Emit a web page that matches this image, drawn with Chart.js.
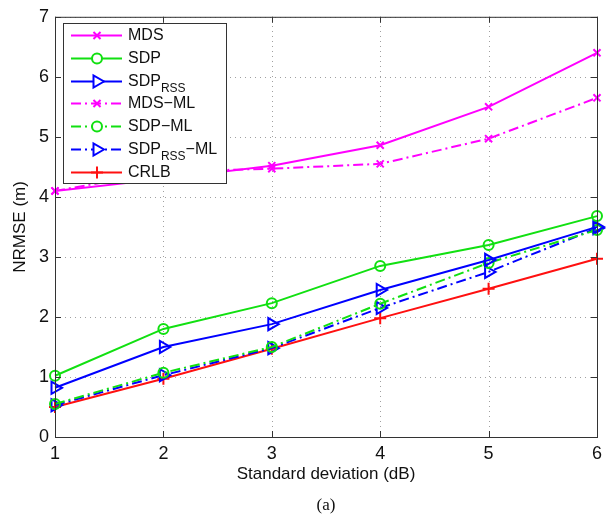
<!DOCTYPE html>
<html>
<head>
<meta charset="utf-8">
<script src="https://cdn.jsdelivr.net/npm/chart.js@4"></script>
<style>
html, body { margin: 0; padding: 0; background: #fff; }
#wrap { width: 611px; height: 514px; }
</style>
</head>
<body>
<div id="wrap"><canvas id="chart" width="611" height="514"></canvas></div>
<script>
const xValues = [1, 2, 3, 4, 5, 6];
const yTicks = [0, 1, 2, 3, 4, 5, 6, 7];
const mds = [4.1, 4.3, 4.52, 4.86, 5.5, 6.4];
const sdp = [1.02, 1.8, 2.23, 2.85, 3.2, 3.68];
const sdpRss = [0.82, 1.5, 1.88, 2.45, 2.95, 3.5];
const mdsMl = [4.1, 4.42, 4.47, 4.55, 4.97, 5.65];
const sdpMl = [0.55, 1.07, 1.5, 2.22, 2.9, 3.45];
const sdpRssMl = [0.53, 1.03, 1.48, 2.15, 2.75, 3.48];
const crlb = [0.5, 0.97, 1.47, 1.98, 2.47, 2.97];

const MAGENTA = "#ff00ff";
const GREEN = "#11e011";
const BLUE = "#0000ff";
const RED = "#ff1010";
const DASHDOT = [10, 4, 2, 4];

function toPoints(values) {
    return values.map((v, i) => ({ x: xValues[i], y: v }));
}

function makeSeries(main, sub, tail, values, color, dash, marker) {
    return {
        label: main + (sub ? sub : "") + tail,
        legendMain: main,
        legendSub: sub,
        legendTail: tail,
        data: toPoints(values),
        borderColor: color,
        backgroundColor: "rgba(0,0,0,0)",
        borderWidth: 2,
        borderDash: dash,
        pointStyle: marker.style,
        pointRadius: marker.radius,
        pointRotation: marker.rotation || 0,
        pointBorderWidth: 2,
        pointBorderColor: color,
        pointBackgroundColor: "rgba(0,0,0,0)",
        tension: 0,
        clip: false
    };
}

const xMark = { style: "crossRot", radius: 5 };
const oMark = { style: "circle", radius: 5 };
const triMark = { style: "triangle", radius: 7, rotation: 90 };
const plusMark = { style: "cross", radius: 6 };

const datasets = [
    makeSeries("MDS", "", "", mds, MAGENTA, [], xMark),
    makeSeries("SDP", "", "", sdp, GREEN, [], oMark),
    makeSeries("SDP", "RSS", "", sdpRss, BLUE, [], triMark),
    makeSeries("MDS\u2212ML", "", "", mdsMl, MAGENTA, DASHDOT, xMark),
    makeSeries("SDP\u2212ML", "", "", sdpMl, GREEN, DASHDOT, oMark),
    makeSeries("SDP", "RSS", "\u2212ML", sdpRssMl, BLUE, DASHDOT, triMark),
    makeSeries("CRLB", "", "", crlb, RED, [], plusMark)
];

// dotted grid, drawn under the data
const dottedGrid = {
    id: "dottedGrid",
    beforeDatasetsDraw(chart) {
        const ctx = chart.ctx;
        const area = chart.chartArea;
        const xs = chart.scales.x;
        const ys = chart.scales.y;
        ctx.save();
        ctx.strokeStyle = "#a0a0a0";
        ctx.lineWidth = 1;
        ctx.setLineDash([1, 4]);
        ctx.beginPath();
        xValues.forEach((v) => {
            const px = Math.round(xs.getPixelForValue(v)) + 0.5;
            ctx.moveTo(px, area.bottom);
            ctx.lineTo(px, area.top);
        });
        yTicks.forEach((v) => {
            const py = Math.round(ys.getPixelForValue(v)) + 0.5;
            ctx.moveTo(area.left, py);
            ctx.lineTo(area.right, py);
        });
        ctx.stroke();
        ctx.restore();
    }
};

const frameAndLegend = {
    id: "frameAndLegend",
    afterDraw(chart) {
        const ctx = chart.ctx;
        const area = chart.chartArea;
        const xs = chart.scales.x;
        const ys = chart.scales.y;

        ctx.save();
        // axes box
        ctx.strokeStyle = "#333";
        ctx.lineWidth = 1;
        ctx.setLineDash([]);
        ctx.strokeRect(area.left + 0.5, area.top + 0.5, area.right - area.left, area.bottom - area.top);

        // inner ticks
        ctx.beginPath();
        xValues.forEach((v) => {
            const px = Math.round(xs.getPixelForValue(v)) + 0.5;
            ctx.moveTo(px, area.bottom);
            ctx.lineTo(px, area.bottom - 6);
            ctx.moveTo(px, area.top);
            ctx.lineTo(px, area.top + 6);
        });
        yTicks.forEach((v) => {
            const py = Math.round(ys.getPixelForValue(v)) + 0.5;
            ctx.moveTo(area.left, py);
            ctx.lineTo(area.left + 6, py);
            ctx.moveTo(area.right, py);
            ctx.lineTo(area.right - 6, py);
        });
        ctx.stroke();

        // legend
        const box = { left: 63, top: 23, right: 226, bottom: 183 };
        ctx.fillStyle = "#fff";
        ctx.fillRect(box.left, box.top, box.right - box.left, box.bottom - box.top);
        ctx.strokeStyle = "#333";
        ctx.strokeRect(box.left + 0.5, box.top + 0.5, box.right - box.left, box.bottom - box.top);

        const rowStart = 35;
        const rowGap = 22.8;
        chart.data.datasets.forEach((ds, i) => {
            const y = Math.round(rowStart + i * rowGap) + 0.5;
            ctx.strokeStyle = ds.borderColor;
            ctx.lineWidth = 2;
            ctx.setLineDash(ds.borderDash);
            ctx.beginPath();
            ctx.moveTo(71, y);
            ctx.lineTo(122, y);
            ctx.stroke();
            ctx.setLineDash([]);
            ctx.fillStyle = "#fff";
            ctx.strokeStyle = ds.borderColor;
            Chart.helpers.drawPoint(ctx, {
                pointStyle: ds.pointStyle,
                radius: ds.pointRadius,
                rotation: ds.pointRotation,
                borderWidth: 2
            }, 97, y);

            ctx.fillStyle = "#111";
            ctx.textBaseline = "middle";
            ctx.textAlign = "left";
            ctx.font = "16px 'Liberation Sans', Arial, sans-serif";
            let tx = 128;
            ctx.fillText(ds.legendMain, tx, y);
            tx += ctx.measureText(ds.legendMain).width;
            if (ds.legendSub) {
                ctx.font = "12px 'Liberation Sans', Arial, sans-serif";
                ctx.fillText(ds.legendSub, tx, y + 7);
                tx += ctx.measureText(ds.legendSub).width;
                ctx.font = "16px 'Liberation Sans', Arial, sans-serif";
            }
            if (ds.legendTail) {
                ctx.fillText(ds.legendTail, tx, y);
            }
        });

        // caption
        ctx.fillStyle = "#111";
        ctx.textAlign = "center";
        ctx.textBaseline = "middle";
        ctx.font = "17px 'Liberation Serif', 'Times New Roman', serif";
        ctx.fillText("(a)", 326, 506);
        ctx.restore();
    }
};

const chart = new Chart(document.getElementById("chart"), {
    type: "line",
    data: { datasets },
    options: {
        responsive: false,
        animation: false,
        layout: { padding: { top: 9, right: 14, left: 0, bottom: 0 } },
        plugins: {
            legend: { display: false },
            tooltip: { enabled: false }
        },
        scales: {
            x: {
                type: "linear",
                min: 1,
                max: 6,
                afterFit: (scale) => { scale.height = 77; },
                afterBuildTicks: (scale) => { scale.ticks = xValues.map((v) => ({ value: v })); },
                ticks: {
                    color: "#111",
                    padding: 6,
                    font: { family: "'Liberation Sans', Arial, sans-serif", size: 18 }
                },
                grid: { display: false, drawTicks: false },
                border: { display: false },
                title: {
                    display: true,
                    text: "Standard deviation (dB)",
                    color: "#111",
                    padding: { top: 0, bottom: 29 },
                    font: { family: "'Liberation Sans', Arial, sans-serif", size: 17 }
                }
            },
            y: {
                type: "linear",
                min: 0,
                max: 7,
                afterFit: (scale) => { scale.width = 55; },
                afterBuildTicks: (scale) => { scale.ticks = yTicks.map((v) => ({ value: v })); },
                ticks: {
                    color: "#111",
                    padding: 6,
                    font: { family: "'Liberation Sans', Arial, sans-serif", size: 18 }
                },
                grid: { display: false, drawTicks: false },
                border: { display: false },
                title: {
                    display: true,
                    text: "NRMSE (m)",
                    color: "#111",
                    padding: { top: 10, bottom: 0 },
                    font: { family: "'Liberation Sans', Arial, sans-serif", size: 17 }
                }
            }
        }
    },
    plugins: [dottedGrid, frameAndLegend]
});
</script>
</body>
</html>
